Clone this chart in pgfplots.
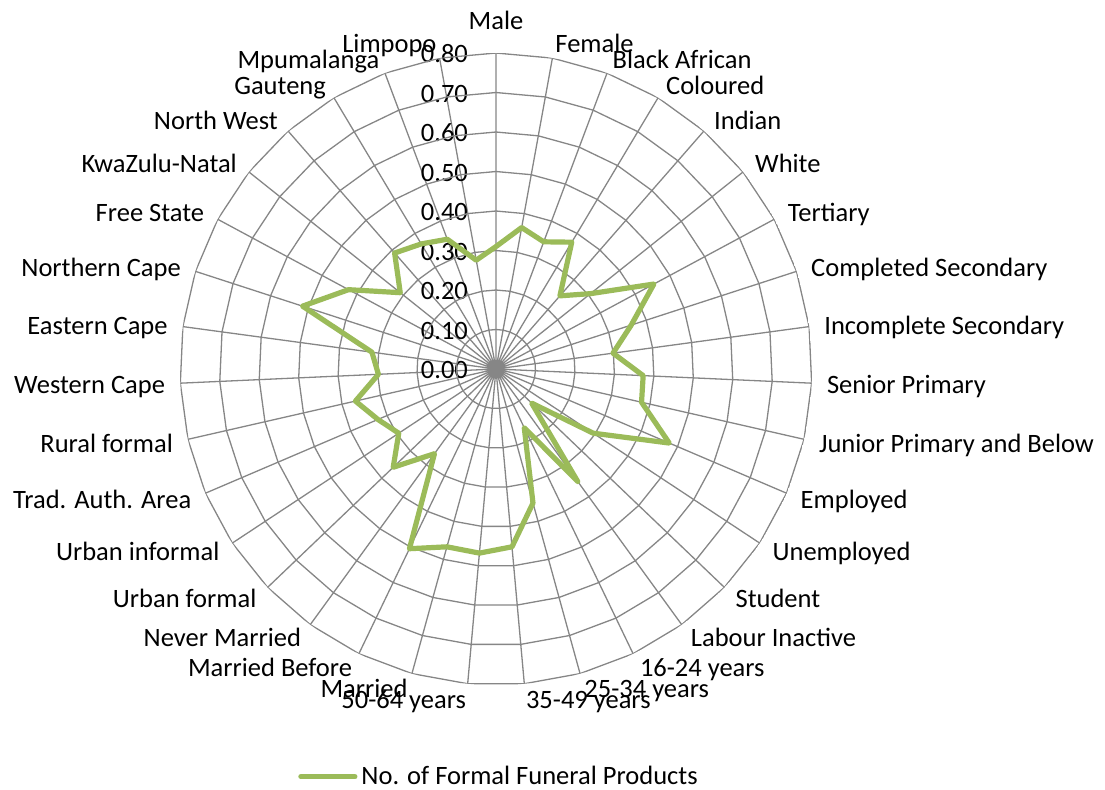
\documentclass[border=0pt]{standalone}
\usepackage{pgfplots}
\pgfplotsset{compat=1.18}
\usepgfplotslibrary{polar}
\usepackage{pgfplotstable}
\usepackage{fontspec}
\setmainfont{Carlito}

\definecolor{funeral}{RGB}{155,187,89}
\definecolor{gridgray}{RGB}{134,134,134}
\newcommand{\lblfont}{\fontsize{13.25}{15}\selectfont}

% k = category index (Male = 0, clockwise), last row closes the line
\pgfplotstableread{
k  share
0  0.310
1  0.364
2  0.344
3  0.374
4  0.246
5  0.306
6  0.454
7  0.360
8  0.299
9  0.373
10 0.378
11 0.477
12 0.295
13 0.125
14 0.352
15 0.165
16 0.352
17 0.452
18 0.468
19 0.467
20 0.505
21 0.265
22 0.360
23 0.295
24 0.325
25 0.365
26 0.298
27 0.317
28 0.515
29 0.424
30 0.310
31 0.390
32 0.369
33 0.351
34 0.280
35 0.310
}\funeral

\begin{document}
\begin{tikzpicture}
\path[use as bounding box] (-248pt,-210pt) rectangle (304.5pt,184.5pt);
\begin{polaraxis}[
  at={(0,0)}, anchor=center,
  scale only axis, width=316pt, height=316pt,
  xmin=90, xmax=450,
  ymin=0, ymax=0.8,
  xtick={90,439.7143,429.4286,419.1429,408.8571,398.5714,388.2857,378,367.7143,
    357.4286,347.1429,336.8571,326.5714,316.2857,306,295.7143,285.4286,275.1429,
    264.8571,254.5714,244.2857,234,223.7143,213.4286,203.1429,192.8571,182.5714,
    172.2857,162,151.7143,141.4286,131.1429,120.8571,110.5714,100.2857},
  xticklabels={},
  ytick={0,0.1,0.2,0.3,0.4,0.5,0.6,0.7,0.8},
  yticklabel style={/pgf/number format/fixed, /pgf/number format/fixed zerofill,
    /pgf/number format/precision=2, /pgf/number format/assume math mode=true,
    anchor=east, font=\lblfont, xshift=-10.5pt, yshift=-0.5pt},
  major tick length=0pt,
  axis line style={draw=none},
  xmajorgrids=true, ymajorgrids=false, xminorgrids=false, yminorgrids=false,
  grid style={gridgray, line width=0.65pt},
  legend style={draw=none, at={(0.5,-0.145)}, anchor=center, font=\lblfont,
    xshift=2pt},
  legend image code/.code={\draw[#1] (2pt,0pt) -- (29pt,0pt);},
]
\pgfplotsinvokeforeach{0.1,0.2,0.3,0.4,0.5,0.6,0.7,0.8}{
  \addplot[gridgray, line width=0.65pt, forget plot]
    table[x expr={450-\thisrow{k}*360/35}, y expr=#1] {\funeral};
}
\addplot[funeral, line width=2.6pt, line join=round, line cap=round]
  table[x expr={450-\thisrow{k}*360/35}, y=share] {\funeral};
\legend{No. of Formal Funeral Products}
\end{polaraxis}
% category labels round the outer ring (ring radius 158pt, centre at origin)
\foreach \k/\txt in {0/Male,1/Female,2/Black African,3/Coloured,4/Indian,5/White,
    6/Tertiary,7/Completed Secondary,8/Incomplete Secondary,9/Senior Primary,
    10/Junior Primary and Below,11/Employed,12/Unemployed,13/Student,
    14/Labour Inactive,15/16-24 years,16/25-34 years,17/35-49 years,
    18/50-64 years,19/Married,20/Married Before,21/Never Married,22/Urban formal,
    23/Urban informal,24/Trad. Auth. Area,25/Rural formal,26/Western Cape,
    27/Eastern Cape,28/Northern Cape,29/Free State,30/KwaZulu-Natal,
    31/North West,32/Gauteng,33/Mpumalanga,34/Limpopo}{
  \pgfmathsetmacro\ang{90-\k*360/35}
  \pgfmathsetmacro\c{cos(\ang)}
  \ifdim\c pt>0.01pt\relax \def\anc{west}\def\rad{165.5pt}%
  \else\ifdim\c pt<-0.01pt\relax \def\anc{east}\def\rad{165.5pt}%
  \else\def\anc{south}\def\rad{168pt}\fi\fi
  \node[anchor=\anc, inner sep=0pt, text height=9.5pt, text depth=3pt,
    font=\lblfont, yshift=-1.5pt] at (\ang:\rad) {\txt};
}
\end{tikzpicture}
\end{document}
